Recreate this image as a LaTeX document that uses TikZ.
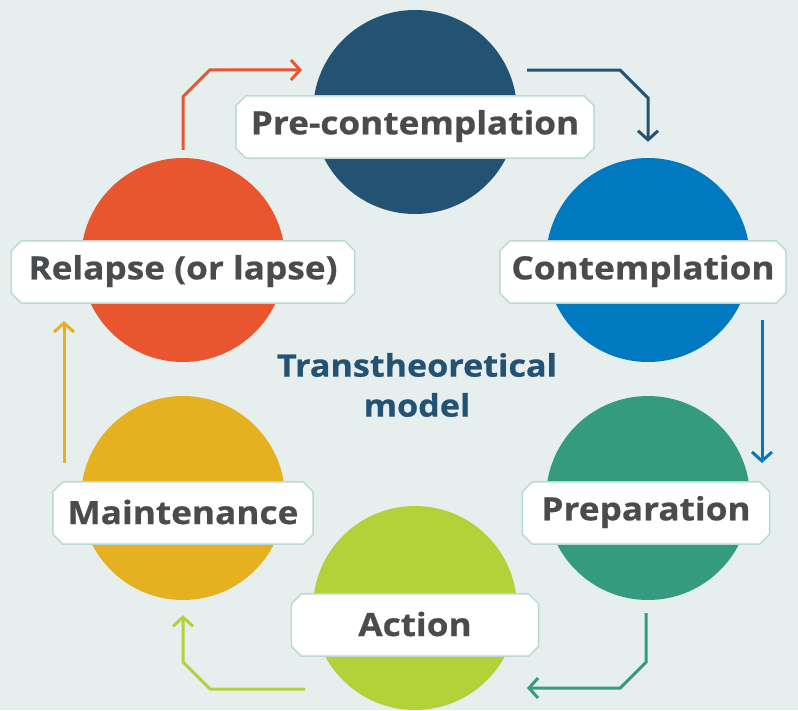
\documentclass[tikz,border=0pt]{standalone}
\usepackage{fontspec}
\setmainfont{Open Sans}
\newfontfamily\tagfont[FakeStretch=1.1, FakeBold=0.6]{Open Sans}
\usetikzlibrary{arrows.meta, calc}

\definecolor{bgcol}{HTML}{E6EFEE}
\definecolor{navy}{HTML}{235272}
\definecolor{ocean}{HTML}{0079C1}
\definecolor{teal}{HTML}{359B7F}
\definecolor{lime}{HTML}{B2D23A}
\definecolor{gold}{HTML}{E5B121}
\definecolor{flame}{HTML}{E9552E}
\definecolor{ink}{HTML}{4A4B4D}
\definecolor{rim}{HTML}{B9D9D2}

\tikzset{
  stage/.style={circle, minimum size=204pt, inner sep=0pt},
  tagbox/.style={rectangle, minimum height=62pt, inner sep=0pt},
  tagtext/.style={text=ink, font=\tagfont\fontsize{32}{36}\selectfont\bfseries},
  flow/.style={line width=3pt, -{Straight Barb[length=9pt, width=20pt, line width=3pt]}}
}

\begin{document}
\begin{tikzpicture}[x=1pt, y=-1pt]
  \fill[bgcol] (0,0) rectangle (798,710);
  \useasboundingbox (0,0) rectangle (798,710);

  % the six stages
  \node[stage, fill=navy] (pre) at (415,112) {};
  \node[stage, fill=ocean] (cont) at (648,260) {};
  \node[stage, fill=teal] (prep) at (648,498) {};
  \node[stage, fill=lime] (act) at (415,608) {};
  \node[stage, fill=gold] (maint) at (183,498) {};
  \node[stage, fill=flame] (rel) at (183,260) {};

  % cut-corner labels on top of the stages
  \foreach \n/\x/\y/\w/\t in {prelbl/415/127/358/Pre-contemplation,
      contlbl/643/272/286/Contemplation, preplbl/646/513/247/Preparation,
      actlbl/415/625/247/Action, maintlbl/183/513/260/Maintenance,
      rellbl/183/272/343/Relapse (or lapse)} {
    \node[tagbox, minimum width=\w pt] (\n) at (\x,\y) {};
    \draw[rim, line width=1.5pt, fill=white]
      ([xshift=10pt]\n.north west) -- ([xshift=-10pt]\n.north east)
      -- ([yshift=-10pt]\n.north east) -- ([yshift=10pt]\n.south east)
      -- ([xshift=-10pt]\n.south east) -- ([xshift=10pt]\n.south west)
      -- ([yshift=10pt]\n.south west) -- ([yshift=-10pt]\n.north west) -- cycle;
    \node[tagtext] at ([yshift=1pt]\n.center) {\t};
  }

  \node[text=navy, align=center, font=\tagfont\fontsize{31}{40}\selectfont\bfseries] (title)
    at (417,385) {Transtheoretical\\model};

  % arrows round the cycle
  \draw[flow, navy] ($(pre)+(112,-42)$) -- ++(93,0) -- ++(28,28) -- ($(cont.north)+(0,-16)$);
  \draw[flow, ocean] ($(cont)+(114,60)$) -- ($(prep)+(114,-35)$);
  \draw[flow, teal] ($(prep.south)+(-2,13)$) -- ++(0,49) -- ++(-26,26) -- ($(act)+(112,80)$);
  \draw[flow, lime] ($(act)+(-110,81)$) -- ++(-95,0) -- ++(-27,-27) -- ($(maint.south)+(0,15)$);
  \draw[flow, gold] ($(maint)+(-119,-35)$) -- ($(rel)+(-119,61)$);
  \draw[flow, flame] ($(rel.north)+(0,-8)$) -- ++(0,-53) -- ++(27,-27) -- ($(pre)+(-113,-42)$);
\end{tikzpicture}
\end{document}
